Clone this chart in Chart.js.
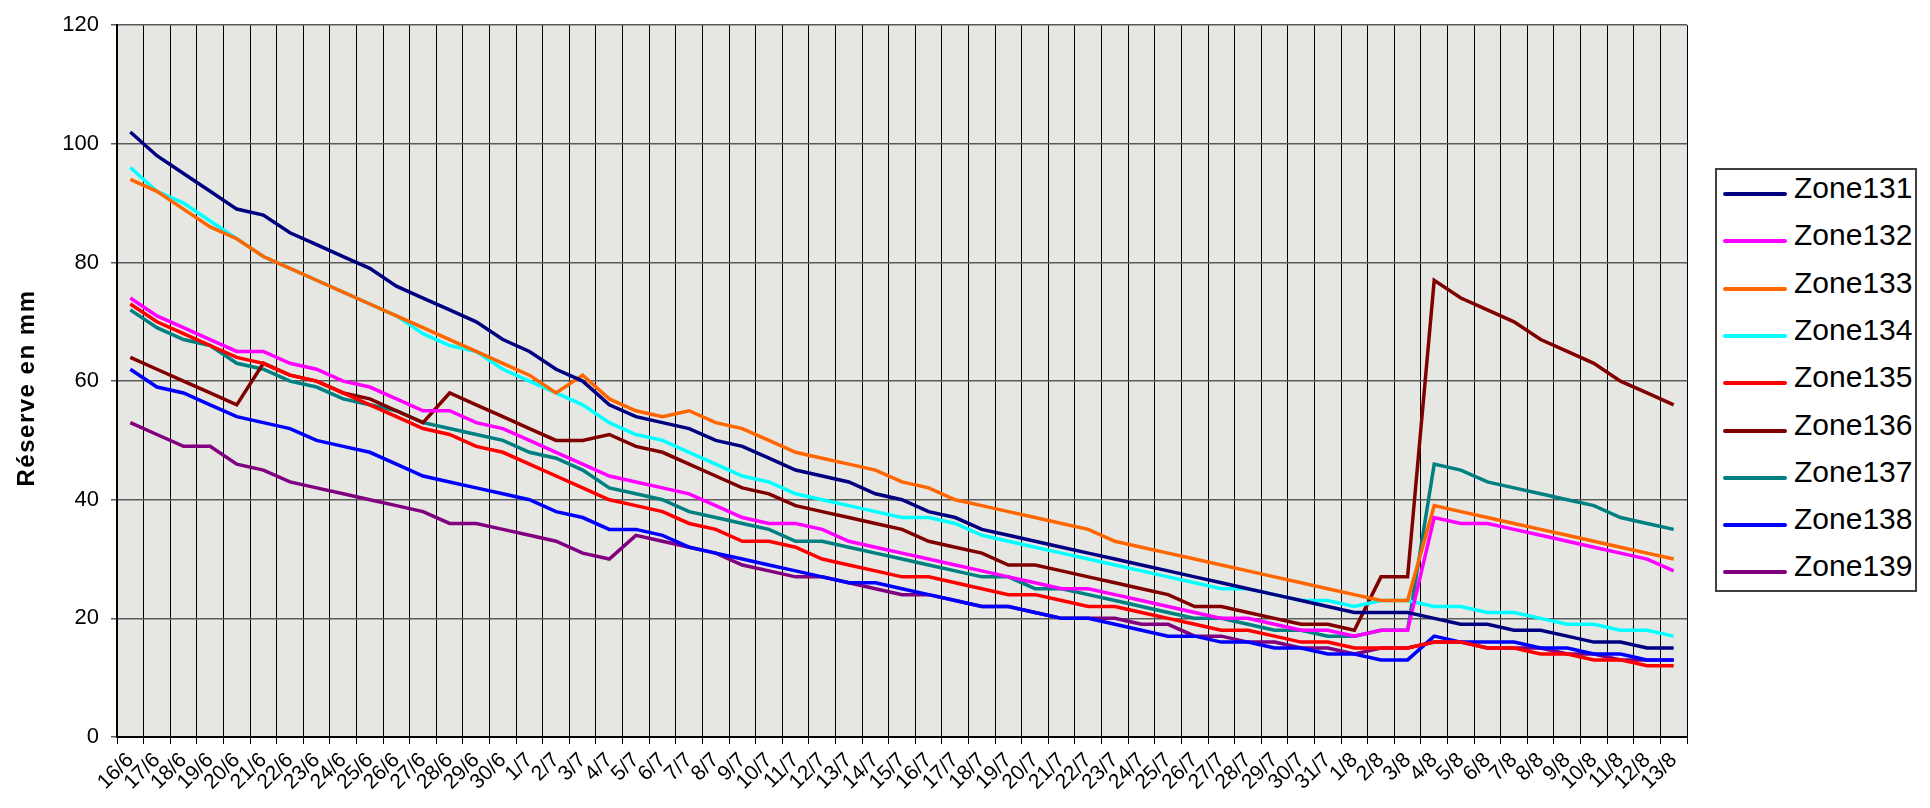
<!DOCTYPE html>
<html>
<head>
<meta charset="utf-8">
<script src="https://cdn.jsdelivr.net/npm/chart.js@4.4.1/dist/chart.umd.min.js"></script>
<style>
  body { margin: 0; background: #fff; }
  #wrap { position: relative; width: 1930px; height: 808px; }
  #legend { position: absolute; left: 1715px; top: 168px; width: 202px; height: 424px;
            border: 2px solid #404040; box-sizing: border-box; background: #fff; }
  .row { position: absolute; left: 0; height: 47px; width: 198px; }
  .sw { position: absolute; left: 6px; top: 21px; width: 64px; height: 4px; border-radius: 2px; }
  .lb { position: absolute; left: 77px; top: 0; line-height: 47px; font: 30px "Liberation Sans", Arial, sans-serif; color: #000; }
</style>
</head>
<body>
<div id="wrap">
  <canvas id="chart" width="1930" height="808"></canvas>
  <div id="legend"></div>
</div>
<script>
// Réserve en mm par zone, du 16/6 au 13/8

const labels = [
  '16/6','17/6','18/6','19/6','20/6','21/6','22/6','23/6','24/6','25/6','26/6','27/6','28/6','29/6','30/6',
  '1/7','2/7','3/7','4/7','5/7','6/7','7/7','8/7','9/7','10/7','11/7','12/7','13/7','14/7','15/7','16/7',
  '17/7','18/7','19/7','20/7','21/7','22/7','23/7','24/7','25/7','26/7','27/7','28/7','29/7','30/7','31/7',
  '1/8','2/8','3/8','4/8','5/8','6/8','7/8','8/8','9/8','10/8','11/8','12/8','13/8'
];

const yTicks = [0, 20, 40, 60, 80, 100, 120];

const zone131 = [102, 98, 95, 92, 89, 88, 85, 83, 81, 79, 76, 74, 72, 70, 67, 65, 62, 60,
  56, 54, 53, 52, 50, 49, 47, 45, 44, 43, 41, 40, 38, 37, 35,
  34, 33, 32, 31, 30, 29,
  28, 27, 26, 25, 24, 23, 22, 21, 21, 21, 20, 19, 19, 18, 18, 17, 16, 16, 15, 15];
const zone132 = [74, 71, 69, 67, 65, 65, 63, 62, 60, 59, 57, 55, 55, 53, 52, 50, 48, 46, 44,
  43, 42, 41, 39, 37, 36, 36, 35, 33, 32, 31, 30, 29, 28, 27, 26, 25, 25, 24, 23,
  22, 21, 20, 20, 19, 18, 18, 17, 18, 18,
  37, 36, 36, 35, 34, 33, 32, 31, 30, 28];
const zone133 = [94, 92, 89, 86, 84, 81, 79, 77, 75, 73, 71, 69, 67, 65, 63, 61,
  58, 61, 57, 55, 54, 55, 53, 52, 50, 48, 47, 46, 45, 43, 42, 40, 39, 38, 37, 36, 35, 33, 32,
  31, 30, 29, 28, 27, 26, 25, 24, 23, 23, 39, 38, 37, 36, 35, 34, 33, 32, 31, 30];
const zone134 = [96, 92, 90, 87, 84, 81, 79, 77, 75, 73, 71, 68, 66, 65, 62, 60, 58, 56, 53,
  51, 50, 48, 46, 44, 43, 41, 40, 39, 38, 37, 37, 36, 34,
  33, 32, 31, 30, 29, 28,
  27, 26, 25, 25, 24, 23, 23, 22, 23, 23, 22, 22, 21, 21, 20, 19, 19, 18, 18, 17];
const zone135 = [73, 70, 68, 66, 64, 63, 61, 60, 58,
  56, 54, 52, 51, 49, 48, 46, 44, 42, 40, 39, 38,
  36, 35, 33, 33, 32, 30, 29, 28, 27, 27, 26, 25, 24, 24, 23, 22, 22, 21,
  20, 19, 18, 18, 17, 16, 16, 15, 15, 15, 16, 16, 15, 15, 14, 14, 13, 13, 12, 12];
const zone136 = [64, 62, 60, 58, 56,
  63, 61, 60, 58, 57, 55, 53,
  58, 56, 54, 52, 50, 50, 51, 49,
  48, 46, 44, 42, 41, 39, 38,
  37, 36, 35, 33, 32, 31, 29, 29, 28, 27, 26, 25,
  24, 22, 22, 21, 20, 19, 19, 18, 27, 27, 77, 74, 72, 70, 67, 65, 63, 60, 58, 56];
const zone137 = [72, 69, 67, 66, 63, 62, 60, 59,
  57, 56, 55, 53, 52, 51, 50, 48, 47, 45, 42, 41, 40, 38,
  37, 36, 35, 33, 33, 32, 31, 30, 29, 28, 27, 27, 25, 25, 24, 23, 22,
  21, 20, 20, 19, 18, 18, 17, 17, 18, 18, 46, 45, 43, 42, 41, 40, 39, 37, 36, 35];
const zone138 = [62, 59, 58, 56, 54, 53, 52, 50, 49, 48, 46, 44, 43, 42, 41, 40, 38, 37, 35, 35,
  34, 32, 31, 30, 29, 28, 27, 26, 26, 25, 24, 23, 22, 22, 21, 20, 20, 19, 18,
  17, 17, 16, 16, 15, 15, 14, 14, 13, 13, 17, 16, 16, 16, 15, 15, 14, 14, 13, 13];
const zone139 = [53, 51, 49, 49, 46, 45, 43, 42, 41, 40, 39, 38, 36, 36, 35, 34, 33, 31, 30,
  34, 33, 32, 31, 29, 28, 27, 27, 26, 25, 24, 24, 23, 22, 22, 21, 20, 20, 20, 19,
  19, 17, 17, 16, 16, 15, 15, 14, 15, 15, 16, 16, 15, 15, 15, 14, 14, 13, 13, 13];

const seriesNames = ['Zone131', 'Zone132', 'Zone133', 'Zone134', 'Zone135', 'Zone136', 'Zone137', 'Zone138', 'Zone139'];
const seriesData = [zone131, zone132, zone133, zone134, zone135, zone136, zone137, zone138, zone139];
const seriesColors = ['#000080', '#FF00FF', '#FF6600', '#00FFFF', '#FF0000', '#800000', '#008080', '#0000FF', '#800080'];

const yTitle = 'Réserve en mm';
const FONT = '"Liberation Sans", Arial, sans-serif';

// fond gris de la zone de tracé
const plotBg = {
  id: 'plotBg',
  beforeDraw(chart) {
    const { ctx, chartArea: a } = chart;
    ctx.save();
    ctx.fillStyle = '#e6e6e3';
    ctx.fillRect(a.left, a.top, a.right - a.left, a.bottom - a.top);
    ctx.restore();
  }
};

// titre de l'axe Y (lettres un peu espacées comme dans Excel)
const yTitlePlugin = {
  id: 'yTitle',
  afterDraw(chart) {
    const ctx = chart.ctx;
    ctx.save();
    ctx.translate(27, 388);
    ctx.rotate(-Math.PI / 2);
    ctx.font = 'bold 24px ' + FONT;
    ctx.letterSpacing = '1.5px';
    ctx.fillStyle = '#000';
    ctx.textAlign = 'center';
    ctx.textBaseline = 'middle';
    ctx.fillText(yTitle, 0, 0);
    ctx.restore();
  }
};

const datasets = seriesNames.map((name, i) => ({
  label: name,
  data: seriesData[i],
  borderColor: seriesColors[i],
  backgroundColor: seriesColors[i],
  borderWidth: 3.5,
  pointRadius: 0,
  tension: 0,
  fill: false
}));

const chart = new Chart(document.getElementById('chart'), {
  type: 'line',
  data: { labels: labels, datasets: datasets },
  plugins: [plotBg, yTitlePlugin],
  options: {
    responsive: false,
    animation: false,
    layout: { padding: { top: 23, right: 243, left: 0, bottom: 0 } },
    plugins: { legend: { display: false }, tooltip: { enabled: false } },
    scales: {
      x: {
        offset: true,
        grid: { offset: true, color: '#000', lineWidth: 1, tickLength: 7 },
        border: { color: '#000', width: 2 },
        ticks: { autoSkip: false, maxRotation: 45, minRotation: 45, color: '#000',
                 font: { family: FONT, size: 21 }, padding: 4 },
        afterFit: s => { s.height = 71; }
      },
      y: {
        min: 0, max: 120,
        afterBuildTicks: s => { s.ticks = yTicks.map(v => ({ value: v })); },
        grid: { color: '#5a5a5a', lineWidth: 1.5, tickLength: 6 },
        border: { color: '#000', width: 2 },
        ticks: { color: '#000', font: { family: FONT, size: 22 }, padding: 12 },
        afterFit: s => { s.width = 117; }
      }
    }
  }
});

// légende à droite
const legend = document.getElementById('legend');
seriesNames.forEach((name, i) => {
  const row = document.createElement('div');
  row.className = 'row';
  row.style.top = (1 + 47.3 * i) + 'px';
  row.innerHTML = '<div class="sw" style="background:' + seriesColors[i] + '"></div><span class="lb">' + name + '</span>';
  legend.appendChild(row);
});
</script>
</body>
</html>
